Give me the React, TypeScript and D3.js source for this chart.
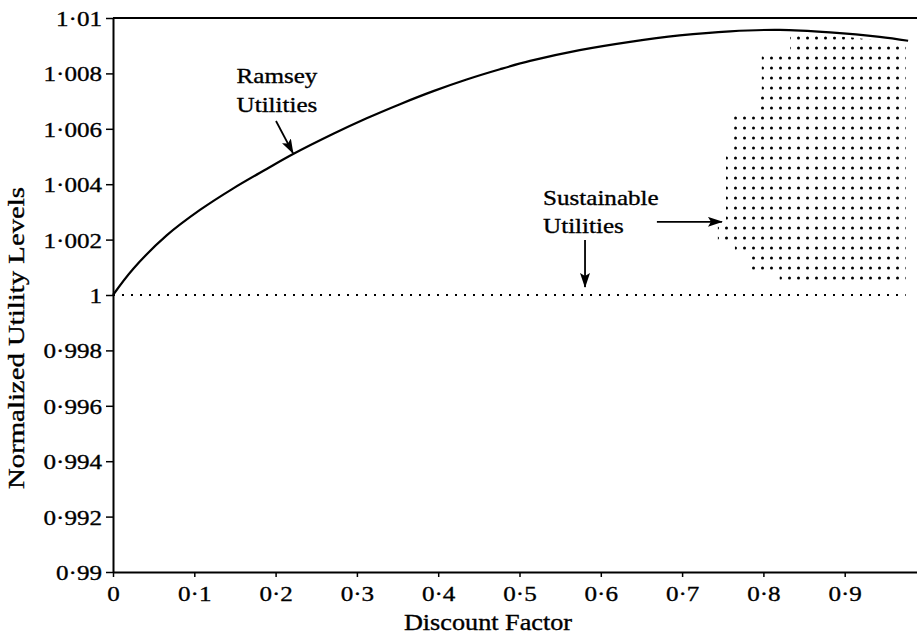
import React, { useEffect, useRef } from 'react';
import * as d3 from 'd3';

// Ramsey utilities curve (discount factor -> normalized utility)
const ramseyDiscount = [0, 0.025, 0.066, 0.107, 0.148, 0.189, 0.221, 0.271, 0.312, 0.353, 0.394, 0.435, 0.476, 0.513, 0.574, 0.636, 0.697, 0.759, 0.82, 0.882, 0.943, 0.978];
const ramseyUtility = [1.0, 1.00095, 1.00215, 1.00307, 1.00385, 1.00455, 1.00508, 1.00582, 1.00638, 1.00689, 1.00736, 1.00778, 1.00815, 1.00845, 1.00884, 1.00914, 1.00937, 1.00952, 1.00957, 1.00948, 1.00932, 1.00918];

// baseline sustainable level
const baseDiscount = [0, 0.975];
const baseUtility = [1.0, 1.0];

// outline of the dotted set of sustainable utilities
const regionDiscount = [0.833, 0.904, 0.975, 0.975, 0.82, 0.82, 0.786, 0.786, 0.765, 0.765, 0.744, 0.744, 0.754, 0.754, 0.764, 0.764, 0.79, 0.79, 0.798, 0.798, 0.833];
const regionUtility = [1.00942, 1.00931, 1.00906, 1.00054, 1.00054, 1.0009, 1.0009, 1.00144, 1.00144, 1.00199, 1.00199, 1.00249, 1.00249, 1.00523, 1.00523, 1.00668, 1.00668, 1.00733, 1.00733, 1.00884, 1.00884];

const xTicks = [0, 0.1, 0.2, 0.3, 0.4, 0.5, 0.6, 0.7, 0.8, 0.9];
const xTickLabels = ['0', '0·1', '0·2', '0·3', '0·4', '0·5', '0·6', '0·7', '0·8', '0·9'];
const yTicks = [1.01, 1.008, 1.006, 1.004, 1.002, 1.0, 0.998, 0.996, 0.994, 0.992, 0.99];
const yTickLabels = ['1·01', '1·008', '1·006', '1·004', '1·002', '1', '0·998', '0·996', '0·994', '0·992', '0·99'];

// annotations: label lines and arrows, in data units
const ramseyLabel = { x: 0.152, lines: ['Ramsey', 'Utilities'], y: [1.00765, 1.00661] };
const ramseyArrow = { from: [0.2005, 1.00628], to: [0.2214, 1.00512] };
const sustLabel = { x: 0.529, lines: ['Sustainable', 'Utilities'], y: [1.00325, 1.00224] };
const sustArrows = [
  { from: [0.669, 1.00264], to: [0.749, 1.00264] },
  { from: [0.5806, 1.00199], to: [0.5806, 1.00029] },
];

const FONT = "'Liberation Serif', 'Times New Roman', serif";
const STRETCH = 1.14;
const FS = 22;

const App = () => {
  const svgRef = useRef<SVGSVGElement>(null);

  useEffect(() => {
    if (!svgRef.current) return;
    const svg = d3.select(svgRef.current);
    svg.selectAll('*').remove();

    const x = d3.scaleLinear().domain([0, 1]).range([113, 926]);
    const y = d3.scaleLinear().domain([0.99, 1.01]).range([572, 18]);

    const defs = svg.append('defs');
    const pat = defs.append('pattern')
      .attr('id', 'dots')
      .attr('patternUnits', 'userSpaceOnUse')
      .attr('x', 2).attr('y', 3)
      .attr('width', 9).attr('height', 10);
    pat.append('circle').attr('cx', 4.5).attr('cy', 5).attr('r', 1.5).attr('fill', '#000');

    defs.append('marker')
      .attr('id', 'head')
      .attr('markerUnits', 'userSpaceOnUse')
      .attr('markerWidth', 15).attr('markerHeight', 10)
      .attr('refX', 14).attr('refY', 5)
      .attr('orient', 'auto')
      .append('path').attr('d', 'M0,0 L15,5 L0,10 L3,5 Z').attr('fill', '#000');

    // stretched text helper
    const label = (px: number, py: number, txt: string, anchor = 'start', size = FS) =>
      svg.append('text')
        .attr('transform', `translate(${px},${py}) scale(${STRETCH},1)`)
        .attr('text-anchor', anchor)
        .attr('font-family', FONT)
        .attr('font-size', size)
        .attr('fill', '#000')
        .attr('stroke', '#000').attr('stroke-width', 0.35)
        .text(txt);

    // top frame line
    svg.append('line')
      .attr('x1', x(0)).attr('x2', x(1))
      .attr('y1', y(1.01)).attr('y2', y(1.01))
      .attr('stroke', '#000').attr('stroke-width', 2);

    // x axis
    const gx = svg.append('g')
      .attr('transform', `translate(0,${y(0.99)})`)
      .call(d3.axisBottom(x).tickValues(xTicks).tickSize(5).tickSizeOuter(0)
        .tickFormat((d, i) => xTickLabels[i]));
    gx.select('.domain').attr('stroke-width', 2);
    gx.selectAll('.tick line').attr('stroke-width', 1.5);
    gx.selectAll('.tick text')
      .attr('font-family', FONT).attr('font-size', FS).attr('fill', '#000')
      .attr('stroke', '#000').attr('stroke-width', 0.35)
      .attr('y', 13)
      .attr('transform', `scale(${STRETCH},1)`);

    // y axis
    const gy = svg.append('g')
      .attr('transform', `translate(${x(0)},0)`)
      .call(d3.axisLeft(y).tickValues(yTicks).tickSize(7).tickSizeOuter(0)
        .tickFormat((d, i) => yTickLabels[i]));
    gy.select('.domain').attr('stroke-width', 2);
    gy.selectAll('.tick line').attr('stroke-width', 1.5);
    gy.selectAll('.tick text')
      .attr('font-family', FONT).attr('font-size', FS).attr('fill', '#000')
      .attr('stroke', '#000').attr('stroke-width', 0.35)
      .attr('x', -11 / STRETCH)
      .attr('dy', '0.34em')
      .attr('transform', `scale(${STRETCH},1)`);

    // axis titles
    label(488, 630, 'Discount Factor', 'middle', 23);
    svg.append('text')
      .attr('transform', `translate(24,338) rotate(-90)`)
      .attr('text-anchor', 'middle')
      .attr('font-family', FONT)
      .attr('font-size', 23)
      .attr('stroke', '#000').attr('stroke-width', 0.35)
      .attr('textLength', 302)
      .attr('lengthAdjust', 'spacingAndGlyphs')
      .text('Normalized Utility Levels');

    // dotted region of sustainable utilities
    const regionPts = regionDiscount.map((d, i) => [x(d), y(regionUtility[i])] as [number, number]);
    svg.append('path')
      .attr('d', d3.line()(regionPts) + 'Z')
      .attr('fill', 'url(#dots)')
      .attr('stroke', 'none');

    // baseline dotted line at 1
    svg.append('line')
      .attr('x1', x(baseDiscount[0])).attr('x2', x(baseDiscount[1]))
      .attr('y1', y(baseUtility[0])).attr('y2', y(baseUtility[1]))
      .attr('stroke', '#000').attr('stroke-width', 2)
      .attr('stroke-dasharray', '2 7');

    // Ramsey curve
    const line = d3.line<number>()
      .x((d) => x(d))
      .y((d, i) => y(ramseyUtility[i]))
      .curve(d3.curveCatmullRom.alpha(0.5));
    svg.append('path')
      .attr('d', line(ramseyDiscount))
      .attr('fill', 'none')
      .attr('stroke', '#000')
      .attr('stroke-width', 2.2);

    // annotations
    [ramseyLabel, sustLabel].forEach((lab) => {
      lab.lines.forEach((t, i) => label(x(lab.x), y(lab.y[i]), t));
    });
    [ramseyArrow, ...sustArrows].forEach((a) => {
      svg.append('line')
        .attr('x1', x(a.from[0])).attr('y1', y(a.from[1]))
        .attr('x2', x(a.to[0])).attr('y2', y(a.to[1]))
        .attr('stroke', '#000').attr('stroke-width', 1.8)
        .attr('marker-end', 'url(#head)');
    });
  }, []);

  return (
    <svg
      ref={svgRef}
      width={917}
      height={640}
      style={{ position: 'absolute', left: 0, top: 0, background: '#fff' }}
    />
  );
};

export default App;
